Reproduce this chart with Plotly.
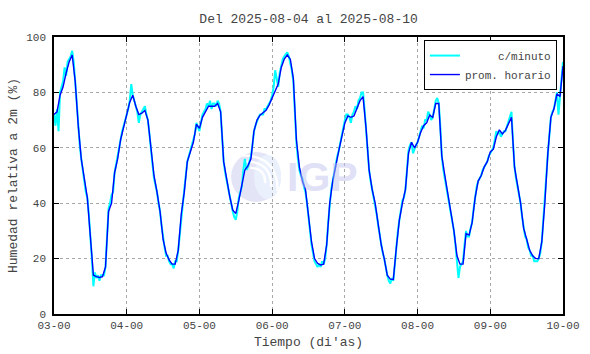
import plotly.graph_objects as go
import pandas as pd

# ---------------- data ----------------
title_text = "Del 2025-08-04 al 2025-08-10"
start_time = "2025-08-03 00:00"

# hourly mean relative humidity (%), 2025-08-03 00h .. 2025-08-10 00h
hourly_rh = [
    72, 73, 79, 82, 87, 91, 93.5, 84, 68, 56, 49, 42, 28, 14, 13.5, 13.2, 13.5, 17, 37, 40, 51, 56, 63, 68,
    72, 76.5, 79, 75, 72, 72.5, 73.5, 70, 59, 50, 44, 37, 27, 22, 19.5, 18, 18, 23, 36, 44, 55, 59, 62, 68.5,
    67, 71, 73, 75, 75, 75, 76, 73, 55, 48, 42.5, 37.5, 36.3, 41, 46, 52, 53.5, 56, 66, 70, 71.8, 72.5, 73.5, 75.5,
    78, 80, 83, 89, 92, 93.5, 92, 85, 63, 53, 48, 45, 36, 26, 20, 18.3, 17.7, 18, 25, 40, 48, 54, 59, 64,
    69, 71.5, 71, 71.5, 74, 77, 78.5, 67, 52, 45, 40, 32, 25, 20, 14, 12.6, 12.5, 24, 34, 40, 45, 58, 62, 60,
    62, 65.5, 68, 69, 71.8, 71, 76, 76, 57, 50, 43, 37, 30, 21, 18, 18, 29, 28.5, 33, 42, 48, 50, 53.1, 55,
    58.5, 59.5, 64, 66.5, 65, 66.3, 68.5, 71, 53, 47, 40, 31, 27, 23, 21, 20, 20, 26, 40, 58, 71, 74, 79.5, 78.5,
    89.5,
]

# per-minute readings at half-hour resolution
minute_rh = [
    72, 68, 74, 66, 80, 82, 84, 89, 86, 91, 92, 93, 95, 91, 84, 76, 68, 61, 56, 51, 48, 44, 42, 36,
    29, 20, 10, 15, 13, 14, 12, 14, 14, 14, 17, 28, 38, 40, 43, 44, 51, 54, 57, 60, 64, 66, 68, 70,
    73, 74, 77, 83, 79, 77, 74, 73, 69, 72, 73, 74, 75, 72, 70, 65, 58, 54, 49, 47, 44, 40, 37, 32,
    27, 24, 21, 21, 19, 18, 18, 16.5, 19, 19, 23, 29, 36, 41, 45, 50, 55, 57, 59, 60, 63, 65, 69, 67,
    66, 69, 72, 73, 74, 76, 75, 77, 74, 76, 76, 75, 77, 76, 73, 64, 55, 51, 48, 45, 42, 39, 37, 35,
    34, 37, 42, 44, 46, 52, 56, 52, 53, 55, 57, 61, 66, 68, 70, 71, 72, 72, 72, 74, 74, 75, 76, 77,
    79, 82, 88, 84, 82, 87, 90, 92, 93, 94, 94.5, 93, 91, 88, 84, 70, 62, 56, 52, 50, 49, 46, 44, 40,
    36, 30, 25, 22, 19, 18, 17, 18, 17, 19, 18, 20, 25, 33, 40, 45, 48, 51, 55, 57, 59, 62, 65, 67,
    70, 72, 72, 71, 69, 72, 73, 75, 74, 77, 78, 80, 80, 74, 66, 58, 52, 48, 45, 42, 40, 36, 32, 28,
    25, 22, 20, 16, 14, 12, 11, 13, 12, 18, 25, 30, 34, 37, 41, 42, 45, 52, 59, 61, 62, 58, 60, 61,
    62, 64, 66, 68, 67, 70, 70, 73, 72, 70, 71, 74, 77, 78, 76, 68, 57, 52, 49, 46, 43, 40, 37, 33,
    30, 25, 20, 13, 17, 18, 19, 25, 30, 28, 28, 31, 33, 38, 43, 46, 48, 49, 50, 52, 53, 54, 55, 57,
    58, 59, 60, 63, 66, 65, 66, 64, 65, 66, 66, 68, 69, 72, 73, 62, 53, 49, 46, 43, 40, 35, 31, 28,
    27, 24, 23, 21, 21, 19, 19, 19, 20, 22, 26, 33, 41, 50, 58, 66, 71, 73, 74, 77, 80, 72, 78, 84,
    91,
]

y_ticks = [0, 20, 40, 60, 80, 100]
legend_names = ["\u00a0\u00a0\u00a0\u00a0\u00a0c/minuto", "prom. horario"]

hourly_x = pd.date_range(start_time, periods=len(hourly_rh), freq="h")
minute_x = pd.date_range(start_time, periods=len(minute_rh), freq="30min")

FONT = "Liberation Mono, Courier New, monospace"
TXT = "#444444"

fig = go.Figure()
fig.add_trace(go.Scatter(x=minute_x, y=minute_rh, mode="lines", name=legend_names[0],
                         line=dict(color="#00ffff", width=2)))
fig.add_trace(go.Scatter(x=hourly_x, y=hourly_rh, mode="lines", name=legend_names[1],
                         line=dict(color="#0000ff", width=1.4)))

# IGP watermark (globe + letters)
gx, gy = 0.397, 0.495
fig.add_shape(type="circle", xref="paper", yref="paper", xsizemode="pixel", ysizemode="pixel",
              xanchor=gx, yanchor=gy, x0=-25, x1=25, y0=-25, y1=25,
              fillcolor="#e4e4f7", line=dict(width=0), layer="below")
fig.add_shape(type="circle", xref="paper", yref="paper", xsizemode="pixel", ysizemode="pixel",
              xanchor=gx, yanchor=gy, x0=-2, x1=25, y0=-22, y1=22,
              fillcolor="#eaf1fd", line=dict(width=0), layer="below")
for r in (10, 17, 24):
    fig.add_shape(type="path", xref="paper", yref="paper", xsizemode="pixel", ysizemode="pixel",
                  xanchor=gx, yanchor=gy,
                  path=f"M {-r*0.6},{r*0.9} Q {r*0.9},{r*0.9} {r*0.9},{-r*0.6}",
                  line=dict(color="white", width=2.2), layer="below")
fig.add_annotation(x=0.527, y=0.495, xref="paper", yref="paper", text="<b>IGP</b>",
                   showarrow=False, font=dict(family="Liberation Sans, Arial, sans-serif",
                                              size=41, color="#c2c2ee"),
                   opacity=0.5, xanchor="center", yanchor="middle")

fig.update_layout(
    template="none",
    width=590, height=354,
    margin=dict(l=54, r=27, t=37, b=40, autoexpand=False),
    paper_bgcolor="white", plot_bgcolor="white",
    font=dict(family=FONT, size=11, color=TXT),
    title=dict(text=title_text, x=0.523, xanchor="center", y=0.949, yanchor="middle",
               font=dict(family=FONT, size=13, color=TXT)),
    showlegend=True,
    legend=dict(x=0.988, y=0.989, xanchor="right", yanchor="top",
                bgcolor="white", bordercolor="black", borderwidth=1,
                font=dict(family=FONT, size=11, color=TXT),
                tracegroupgap=0, itemwidth=30),
)
fig.update_xaxes(
    range=[pd.Timestamp("2025-08-03 00:00"), pd.Timestamp("2025-08-10 00:00")],
    dtick=86400000, tickformat="%d-%H", tick0="2025-08-03",
    automargin=False,
    showgrid=True, gridcolor="#a8a8a8", griddash="dot", gridwidth=1,
    showline=True, linecolor="black", linewidth=1.5, mirror="ticks",
    ticks="inside", ticklen=5, tickcolor="black", tickwidth=1,
    tickfont=dict(family=FONT, size=11, color=TXT),
    title=dict(text="Tiempo (di'as)", standoff=6, font=dict(family=FONT, size=13, color=TXT)),
    zeroline=False,
)
fig.update_yaxes(
    range=[0, 100], tickvals=y_ticks,
    automargin=False, ticklabelstandoff=4,
    showgrid=True, gridcolor="#a8a8a8", griddash="dot", gridwidth=1,
    showline=True, linecolor="black", linewidth=1.5, mirror="ticks",
    ticks="inside", ticklen=5, tickcolor="black", tickwidth=1,
    tickfont=dict(family=FONT, size=11, color=TXT),
    title=dict(text="Humedad relativa a 2m (%)", standoff=6, font=dict(family=FONT, size=13, color=TXT)),
    zeroline=False,
)

fig.write_html("out.html", config={"displayModeBar": False},
               post_script="document.body.style.margin='0';document.body.style.padding='0';")
